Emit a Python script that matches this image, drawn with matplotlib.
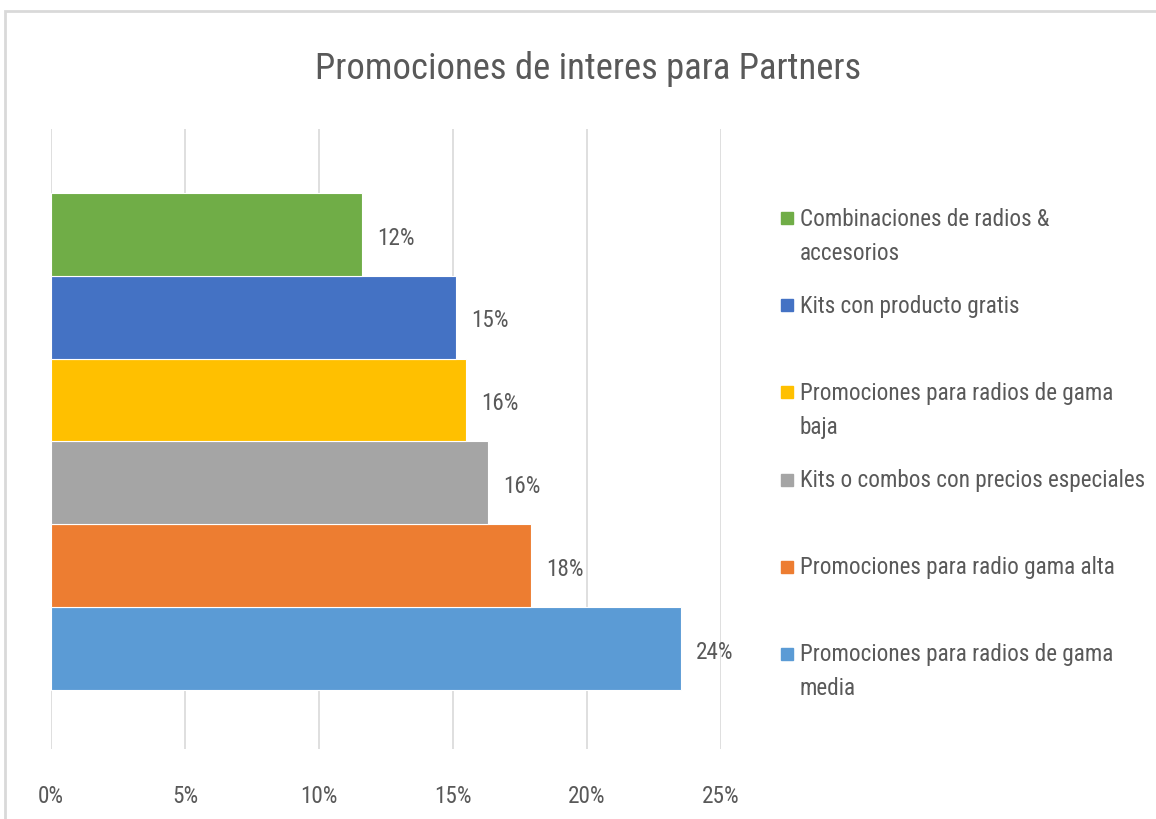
import matplotlib
matplotlib.use("Agg")
import matplotlib.pyplot as plt
from matplotlib.patches import Rectangle

plt.rcParams['font.family'] = ['Roboto Condensed', 'Liberation Sans Narrow', 'Roboto', 'DejaVu Sans']

# data, bottom bar first
categories = [
    "Promociones para radios de gama\nmedia",
    "Promociones para radio gama alta",
    "Kits o combos con precios especiales",
    "Promociones para radios de gama\nbaja",
    "Kits con producto gratis",
    "Combinaciones de radios &\naccesorios",
]
values = [23.5, 17.9, 16.3, 15.5, 15.1, 11.6]
colors = ["#5B9BD5", "#ED7D31", "#A5A5A5", "#FFC000", "#4472C4", "#70AD47"]
xticks = [0, 5, 10, 15, 20, 25]

txt = "#595959"
W, H = 1156, 820
fs = 16.7

fig = plt.figure(figsize=(W / 100, H / 100), dpi=100)
ax = fig.add_axes([51 / W, 1 - 750 / H, (721 - 51) / W, (750 - 130) / H])

ypos = list(range(len(values)))
bars = ax.barh(ypos, values, height=1.0, color=colors, edgecolor="white", linewidth=0.8, zorder=3)
for b, v in zip(bars, values):
    ax.annotate(f"{v:.0f}%", (b.get_width(), b.get_y() + b.get_height() / 2),
                xytext=(11, -2), textcoords="offset points", ha="left", va="center",
                fontsize=fs, color=txt)

ax.set_xlim(0, 25)
ax.set_ylim(-1.21, 6.27)
ax.set_xticks(xticks)
ax.set_xticklabels([f"{t}%" for t in xticks])
ax.set_yticks([])
ax.tick_params(axis="x", length=0, pad=25, labelsize=fs, labelcolor=txt)
ax.grid(axis="x", color="#D9D9D9", linewidth=1.2, zorder=0)
for s in ax.spines.values():
    s.set_visible(False)

fig.text(588 / W, 1 - 69 / H, "Promociones de interes para Partners",
         ha="center", va="center", fontsize=26.4, color=txt)

# legend drawn by hand, top entry = top bar
leg_top, leg_step, line_h = 219, 87.2, 34
for i, k in enumerate(range(len(categories) - 1, -1, -1)):
    yc = leg_top + i * leg_step
    fig.patches.append(Rectangle((781 / W, 1 - (yc + 6) / H), 12 / W, 12 / H,
                                 transform=fig.transFigure, color=colors[k]))
    for j, line in enumerate(categories[k].split("\n")):
        fig.text(800 / W, 1 - (yc + j * line_h) / H, line, ha="left", va="center",
                 fontsize=fs, color=txt)

# chart border
fig.patches.append(Rectangle((5 / W, -0.1), 1.2, 1.1 - 12 / H, transform=fig.transFigure,
                             fill=False, edgecolor="#D9D9D9", linewidth=2))

fig.savefig("out.png", dpi=100)
